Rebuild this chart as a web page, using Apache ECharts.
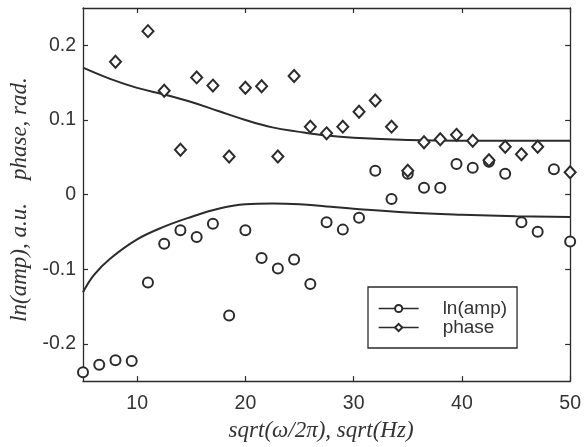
<!DOCTYPE html>
<html>
<head>
<meta charset="utf-8">
<script src="https://cdn.jsdelivr.net/npm/echarts@6/dist/echarts.min.js"></script>
<style>
html,body{margin:0;padding:0;background:#fff;}
#chart{width:584px;height:447px;}
</style>
</head>
<body>
<div id="chart"></div>
<script>
// ---- data ----
var xValues = [5, 6.5, 8, 9.5, 11, 12.5, 14, 15.5, 17, 18.5, 20, 21.5, 23, 24.5, 26, 27.5, 29, 30.5, 32, 33.5, 35, 36.5, 38, 39.5, 41, 42.5, 44, 45.5, 47, 48.5, 50];
var lnAmp = [-0.238, -0.228, -0.222, -0.223, -0.118, -0.066, -0.048, -0.057, -0.039, -0.162, -0.048, -0.085, -0.099, -0.087, -0.120, -0.037, -0.047, -0.031, 0.032, -0.006, 0.028, 0.009, 0.009, 0.041, 0.036, 0.044, 0.028, -0.037, -0.050, 0.034, -0.063];
var phase = [null, null, 0.178, null, 0.219, 0.139, 0.060, 0.157, 0.146, 0.051, 0.143, 0.145, 0.051, 0.159, 0.091, 0.082, 0.091, 0.111, 0.126, 0.091, 0.032, 0.070, 0.074, 0.080, 0.072, 0.046, 0.064, 0.054, 0.064, null, 0.030];
var fitAmpX = [5, 6, 7.5, 10, 12.5, 15, 17.5, 20, 22.5, 25, 27.5, 30, 35, 40, 45, 50];
var fitAmp = [-0.131, -0.108, -0.086, -0.060, -0.043, -0.030, -0.019, -0.013, -0.012, -0.013, -0.016, -0.019, -0.024, -0.027, -0.029, -0.030];
var fitPhaseX = [5, 7.5, 10, 12.5, 15, 17.5, 20, 22.5, 25, 27.5, 30, 35, 40, 45, 50];
var fitPhase = [0.170, 0.155, 0.143, 0.134, 0.124, 0.112, 0.100, 0.090, 0.084, 0.079, 0.076, 0.073, 0.072, 0.072, 0.072];
var xTicks = [10, 20, 30, 40, 50];
var yTicks = [-0.2, -0.1, 0, 0.1, 0.2];
var seriesNames = ['ln(amp)', 'phase'];
var xTitle = 'sqrt(\u03c9/2\u03c0), sqrt(Hz)';
var yTitle = 'ln(amp), a.u.    phase, rad.';

function pairs(xs, ys) { return xs.map(function (x, i) { return [x, ys[i]]; }); }

var ink = '#2b2b2b';
var sans = '"Liberation Sans", Arial, sans-serif';
var serif = '"Liberation Serif", "Times New Roman", serif';

function xAxis(pos, labels) {
  return {
    type: 'value', min: 5, max: 50, position: pos,
    axisLine: { show: true, onZero: false, lineStyle: { color: ink, width: 1.3 } },
    axisTick: { show: true, inside: true, length: 5, customValues: xTicks, lineStyle: { color: ink, width: 1.2 } },
    axisLabel: { show: labels, customValues: xTicks, fontFamily: sans, fontSize: 19.5, color: '#333', margin: 13 },
    splitLine: { show: false }
  };
}
function yAxis(pos, labels) {
  return {
    type: 'value', min: -0.25, max: 0.25, position: pos,
    axisLine: { show: true, onZero: false, lineStyle: { color: ink, width: 1.3 } },
    axisTick: { show: true, inside: true, length: 5, customValues: yTicks, lineStyle: { color: ink, width: 1.2 } },
    axisLabel: { show: labels, customValues: yTicks, fontFamily: sans, fontSize: 19.5, color: '#333', margin: 7 },
    splitLine: { show: false }
  };
}

var chart = echarts.init(document.getElementById('chart'), null, { renderer: 'canvas' });
var xa0 = xAxis('bottom', true);
xa0.name = xTitle;
xa0.nameLocation = 'middle';
xa0.nameGap = 36;
xa0.nameTextStyle = { fontFamily: serif, fontStyle: 'italic', fontSize: 23, color: '#333', padding: [0, 11, 0, 0] };
var ya0 = yAxis('left', true);
ya0.name = yTitle;
ya0.nameLocation = 'middle';
ya0.nameRotate = 90;
ya0.nameGap = 52;
ya0.nameTextStyle = { fontFamily: serif, fontStyle: 'italic', fontSize: 23, color: '#333', padding: [0, 10, 0, 0] };

chart.setOption({
  animation: false,
  backgroundColor: '#fff',
  grid: { left: 83, right: 11, top: 8, bottom: 61, containLabel: false },
  xAxis: [xa0, xAxis('top', false)],
  yAxis: [ya0, yAxis('right', false)],
  legend: {
    data: seriesNames,
    orient: 'vertical',
    left: 368, top: 287,
    padding: [12, 10, 11, 10],
    itemWidth: 40, itemHeight: 9, itemGap: 0,
    borderColor: ink, borderWidth: 1.3,
    backgroundColor: '#fff',
    selectedMode: false,
    textStyle: { fontFamily: sans, fontSize: 19, color: '#333', padding: [0, 0, 0, 19] },
    lineStyle: { color: ink, width: 1.3, opacity: 1 },
    itemStyle: { color: ink, borderColor: ink, borderWidth: 1.3 }
  },
  series: [
    {
      name: seriesNames[0], type: 'line', data: pairs(xValues, lnAmp),
      symbol: 'emptyCircle', symbolSize: 10, showSymbol: true, showAllSymbol: true,
      lineStyle: { opacity: 0 },
      itemStyle: { color: ink, borderColor: ink, borderWidth: 1.7 },
      emphasis: { disabled: true }, z: 3
    },
    {
      name: seriesNames[1], type: 'line', data: pairs(xValues, phase),
      symbol: 'emptyDiamond', symbolSize: [11, 12], showSymbol: true, showAllSymbol: true,
      lineStyle: { opacity: 0 },
      itemStyle: { color: ink, borderColor: ink, borderWidth: 1.7 },
      emphasis: { disabled: true }, z: 3
    },
    {
      name: 'fitAmp', type: 'line', data: pairs(fitAmpX, fitAmp), smooth: 0.4,
      showSymbol: false, lineStyle: { color: ink, width: 2 }, emphasis: { disabled: true }, z: 2
    },
    {
      name: 'fitPhase', type: 'line', data: pairs(fitPhaseX, fitPhase), smooth: 0.4,
      showSymbol: false, lineStyle: { color: ink, width: 2 }, emphasis: { disabled: true }, z: 2
    }
  ]
});
</script>
</body>
</html>
